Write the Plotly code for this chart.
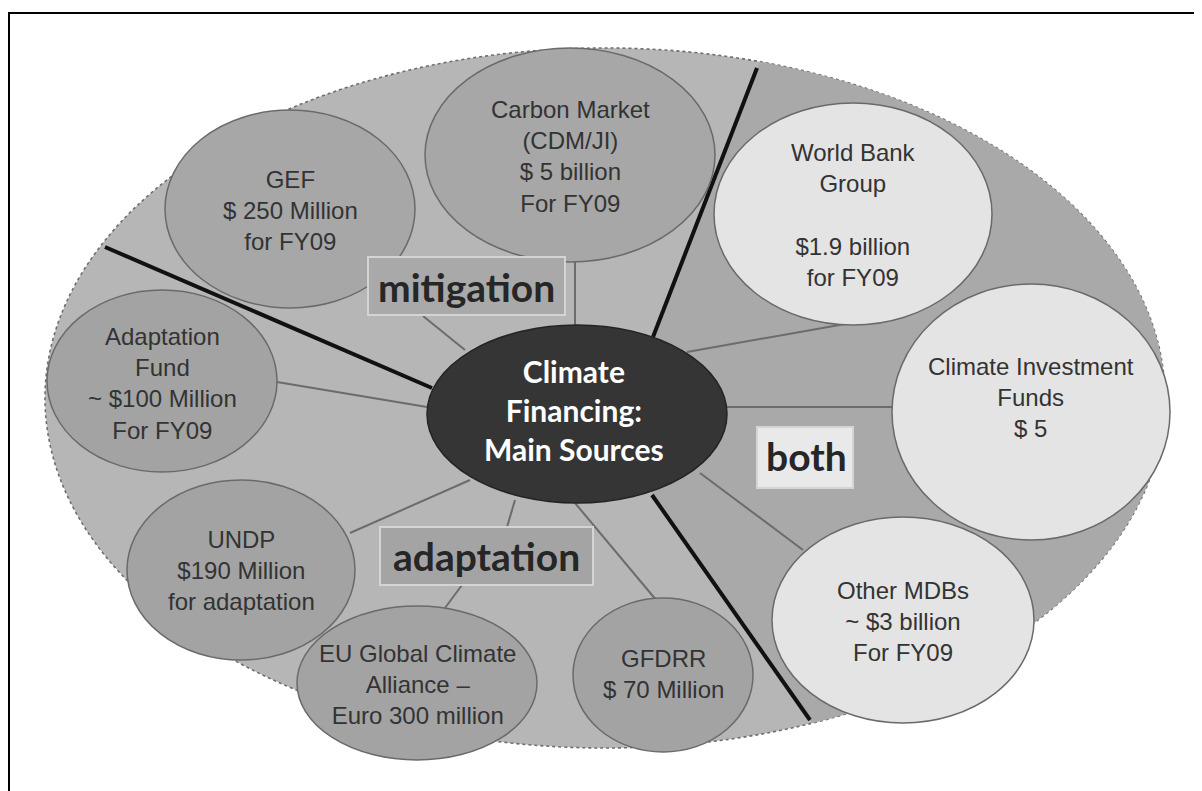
import numpy as np
import plotly.graph_objects as go

# ---------------- data (texts of the diagram) ----------------
sources = ["GEF", "Carbon Market<br>(CDM/JI)", "World Bank<br>Group<br>", "Climate Investment<br>Funds",
           "Other MDBs", "GFDRR", "EU Global Climate<br>Alliance –", "UNDP", "Adaptation<br>Fund"]
amounts = ["$ 250 Million", "$ 5 billion", "$1.9 billion", "$ 5", "~ $3 billion", "$ 70 Million",
           "Euro 300 million", "$190 Million", "~ $100 Million"]
periods = ["for FY09", "For FY09", "for FY09", "", "For FY09", "", "", "for adaptation", "For FY09"]
groups = ["mitigation", "mitigation", "both", "both", "both",
          "adaptation", "adaptation", "adaptation", "adaptation"]
group_labels = ["mitigation", "both", "adaptation"]
center_title = ["Climate", "Financing:", "Main Sources"]

# ---------------- layout geometry (viewport pixels) ----------------
W, H = 1202, 791          # browser viewport
BODY_MARGIN = 8           # default page margin around the plot div
outer = dict(cx=605, cy=398, rx=560, ry=350)
center_el = dict(cx=577, cy=414, rx=150, ry=89)
# cx, cy, rx, ry, text_y
circle_geom = [
    (290, 209, 125, 99, 210),
    (570, 155, 145, 107, 156),
    (853, 214, 139, 111, 215),
    (1031, 412, 139, 128, 397),
    (903, 620, 131, 103, 621),
    (663, 675, 90, 77, 674),
    (417, 683, 120, 77, 684),
    (241, 570, 114, 90, 570),
    (162, 381, 115, 91, 383),
]
# x0, y0, x1, y1, text_x, text_y
label_boxes = {
    "mitigation": (368, 257, 565, 315, 466, 287),
    "both": (757, 427, 853, 488, 806, 456),
    "adaptation": (380, 527, 593, 585, 486, 556),
}
box_fill = {"mitigation": "#a9a9a9", "both": "#e9e9e9", "adaptation": "#a4a4a4"}
circle_fill = {"mitigation": "#a7a7a7", "both": "#e4e4e4", "adaptation": "#a3a3a3"}
dividers = [((105, 247), (432, 388)), ((757, 68), (653, 337)), ((652, 495), (810, 720))]
connectors = [
    ((423, 316), (465, 350)),   # mitigation box
    ((575, 260), (575, 328)),   # carbon market
    ((687, 352), (845, 324)),   # world bank
    ((727, 407), (893, 407)),   # CIF
    ((700, 473), (803, 550)),   # other MDBs
    ((575, 503), (657, 601)),   # GFDRR
    ((507, 527), (515, 500)),   # adaptation box
    ((462, 585), (445, 608)),   # EU
    ((350, 533), (470, 480)),   # UNDP
    ((277, 382), (427, 407)),   # adaptation fund
]

shapes = []
annotations = []

# frame
shapes.append(dict(type="rect", x0=9, y0=13, x1=W + 30, y1=H + 30,
                   line=dict(color="black", width=2), fillcolor="rgba(0,0,0,0)", layer="below"))

# outer ellipse
o = outer
shapes.append(dict(type="circle", x0=o["cx"] - o["rx"], x1=o["cx"] + o["rx"],
                   y0=o["cy"] - o["ry"], y1=o["cy"] + o["ry"],
                   fillcolor="#b6b6b6", line=dict(color="#6e6e6e", width=1.6, dash="dot"), layer="below"))

# darker "both" sector
def ell_t(p):
    return np.arctan2((p[1] - o["cy"]) / o["ry"], (p[0] - o["cx"]) / o["rx"])

t1 = ell_t(dividers[1][0])
t2 = ell_t(dividers[2][1])
ts = np.linspace(t1, t2, 80)
pts = [dividers[1][1], dividers[1][0]] + [(o["cx"] + o["rx"] * np.cos(t), o["cy"] + o["ry"] * np.sin(t)) for t in ts] \
      + [dividers[2][1], dividers[2][0]]
path = "M " + " L ".join(f"{x:.1f},{y:.1f}" for x, y in pts) + " Z"
shapes.append(dict(type="path", path=path, fillcolor="#a9a9a9", line=dict(width=0), layer="below"))

# connectors
for (a, b) in connectors:
    shapes.append(dict(type="line", x0=a[0], y0=a[1], x1=b[0], y1=b[1],
                       line=dict(color="#6c6c6c", width=2), layer="below"))
# thick dividers
for (a, b) in dividers:
    shapes.append(dict(type="line", x0=a[0], y0=a[1], x1=b[0], y1=b[1],
                       line=dict(color="#111111", width=4), layer="below"))

# source circles
for src, amt, per, grp, g in zip(sources, amounts, periods, groups, circle_geom):
    cx, cy, rx, ry, ty = g
    shapes.append(dict(type="circle", x0=cx - rx, x1=cx + rx, y0=cy - ry, y1=cy + ry,
                       fillcolor=circle_fill[grp], line=dict(color="#6a6a6a", width=1.5), layer="below"))
    lines = [src, amt] + ([per] if per else [])
    annotations.append(dict(x=cx, y=ty, xref="x", yref="y", text="<br>".join(lines),
                            showarrow=False, xanchor="center", yanchor="middle", align="center",
                            font=dict(family="Liberation Sans, Arial", size=24, color="#333333")))

# group label boxes
for lab in group_labels:
    x0, y0, x1, y1, tx, ty = label_boxes[lab]
    shapes.append(dict(type="rect", x0=x0, y0=y0, x1=x1, y1=y1, fillcolor=box_fill[lab],
                       line=dict(color="#d4d4d4", width=2), layer="below"))
    annotations.append(dict(x=tx, y=ty, xref="x", yref="y", text=f"<b>{lab}</b>", showarrow=False,
                            xanchor="center", yanchor="middle",
                            font=dict(family="Lato", size=39, color="#262626")))

# central ellipse
c = center_el
shapes.append(dict(type="circle", x0=c["cx"] - c["rx"], x1=c["cx"] + c["rx"],
                   y0=c["cy"] - c["ry"], y1=c["cy"] + c["ry"],
                   fillcolor="#353535", line=dict(color="#242424", width=1.5), layer="below"))
annotations.append(dict(x=574, y=410, xref="x", yref="y", text="<br>".join(f"<b>{s}</b>" for s in center_title),
                        showarrow=False, xanchor="center", yanchor="middle", align="center",
                        font=dict(family="Lato", size=30, color="white")))

fig = go.Figure()
fig.update_layout(
    width=W, height=H, autosize=False,
    margin=dict(l=0, r=0, t=0, b=0, pad=0),
    paper_bgcolor="white", plot_bgcolor="white",
    xaxis=dict(range=[BODY_MARGIN, W + BODY_MARGIN], visible=False, fixedrange=True),
    yaxis=dict(range=[H + BODY_MARGIN, BODY_MARGIN], visible=False, fixedrange=True),
    shapes=shapes, annotations=annotations, showlegend=False,
)
fig.write_html("out.html")
